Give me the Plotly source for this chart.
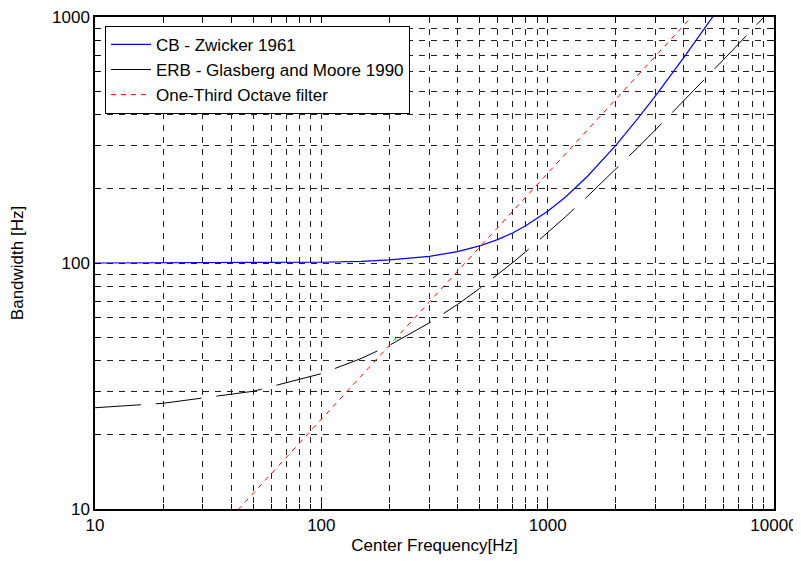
import plotly.graph_objects as go

# Center frequencies (Hz) and bandwidths (Hz)
cb_freq = [10, 20, 50, 100, 150, 200, 300, 400, 500, 600, 700, 800, 1000, 1200,
           1500, 2000, 2500, 3000, 4000, 5000, 5300, 5400]
cb_bw = [100.0, 100.0, 100.2, 100.7, 101.6, 102.9, 106.4, 111.2, 117.3, 124.4, 132.5,
         141.6, 162.2, 185.6, 225.2, 300.8, 386.0, 479.2, 685.4, 914.0, 986.5, 1011.0]

erb_freq = [10, 20, 50, 100, 150, 200, 300, 400, 500, 600, 700, 800, 1000, 1200,
            1500, 2000, 2500, 3000, 4000, 5000, 6000, 7000, 8000, 9000, 9100]
erb_bw = [25.8, 26.9, 30.1, 35.5, 40.9, 46.3, 57.1, 67.9, 78.7, 89.5, 100.3, 111.1,
          132.6, 154.2, 186.6, 240.6, 294.6, 348.5, 456.5, 564.4, 672.3, 780.3,
          888.2, 996.1, 1007.0]

oct_freq = [40, 100, 1000, 4400]
oct_bw = [9.26, 23.16, 231.6, 1019.0]

x_ticks = [10, 100, 1000, 10000]
x_tick_labels = ["10", "100", "1000", "10000"]
y_ticks = [10, 100, 1000]
y_tick_labels = ["10", "100", "1000"]

names = ["CB - Zwicker 1961", "ERB - Glasberg and Moore 1990", "One-Third Octave filter"]

font = "Liberation Sans, Arial, sans-serif"
fs = 17

fig = go.Figure()
fig.add_trace(go.Scatter(x=cb_freq, y=cb_bw, mode="lines", name=names[0],
                         line=dict(color="#0000ff", width=1.2)))
fig.add_trace(go.Scatter(x=erb_freq, y=erb_bw, mode="lines", name=names[1],
                         line=dict(color="#000000", width=1, dash="46px,15px")))
fig.add_trace(go.Scatter(x=oct_freq, y=oct_bw, mode="lines", name=names[2],
                         line=dict(color="#ff0000", width=1, dash="5px,5px")))

axis_common = dict(
    type="log", automargin=False, ticklabeloverflow="allow",
    showline=True, linecolor="black", linewidth=1.5, mirror="allticks",
    ticks="inside", ticklen=6, tickcolor="black", tickwidth=1,
    showgrid=True, gridcolor="#222222", gridwidth=1, griddash="6px,6px",
    zeroline=False,
    tickfont=dict(family=font, size=fs, color="black"),
    minor=dict(dtick="D1", ticks="inside", ticklen=5, tickcolor="black",
               showgrid=True, gridcolor="#222222", gridwidth=1, griddash="6px,6px"),
)

fig.update_xaxes(range=[1, 4], tickvals=x_ticks, ticktext=x_tick_labels, **axis_common,
                 title=dict(text="Center Frequency[Hz]", font=dict(family=font, size=fs, color="black"),
                            standoff=5))
fig.update_yaxes(range=[1, 3], tickvals=y_ticks, ticktext=y_tick_labels, **axis_common,
                 title=dict(text="Bandwidth [Hz]", font=dict(family=font, size=fs, color="black"),
                            standoff=28))

# page body has an 8px margin, so the figure is sized to end at the window edge
fig.update_layout(
    width=793, height=553,
    margin=dict(l=87, r=27, t=9, b=52),
    paper_bgcolor="white", plot_bgcolor="white",
    font=dict(family=font, size=fs, color="black"),
    legend=dict(x=0.0147, y=0.982, xanchor="left", yanchor="top",
                bgcolor="white", bordercolor="black", borderwidth=1,
                font=dict(family=font, size=17, color="black"),
                tracegroupgap=0, itemwidth=40),
    showlegend=True,
)

fig.write_html("out.html")
